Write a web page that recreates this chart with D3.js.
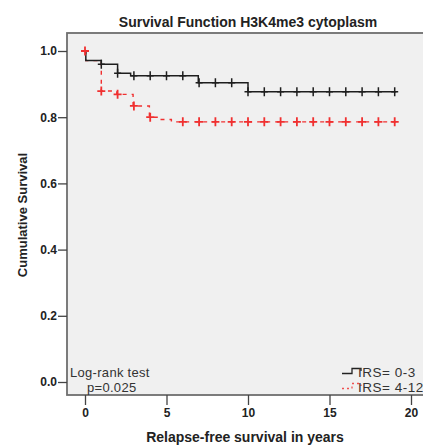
<!DOCTYPE html>
<html><head><meta charset="utf-8">
<script src="https://cdn.jsdelivr.net/npm/d3@7"></script>
<style>body{margin:0;background:#fff}svg{display:block}text{font-family:Arial,"Liberation Sans",sans-serif}</style>
</head><body>
<svg id="c" width="423" height="446"></svg>
<script>
// Data
const title = "Survival Function H3K4me3 cytoplasm";
const xLabel = "Relapse-free survival in years";
const yLabel = "Cumulative Survival";
const xTicks = [0, 5, 10, 15, 20];
const yTicks = [0, 0.2, 0.4, 0.6, 0.8, 1.0];
const seriesNames = ["IRS= 0-3", "IRS= 4-12"];
// step points [time, survival]
const lowSteps = [[0,1.0],[0.05,0.971],[1.0,0.960],[2.0,0.933],[2.8,0.925],[6.95,0.904],[10.0,0.877],[19.1,0.877]];
const lowCensor = [[1,0.960],[2,0.933],[3,0.925],[4,0.925],[5,0.925],[6,0.925],[7,0.904],[8,0.904],[9,0.904],[10,0.877],[11,0.877],[12,0.877],[13,0.877],[14,0.877],[15,0.877],[16,0.877],[17,0.877],[18,0.877],[19,0.877]];
const highSteps = [[0,1.0],[0.05,0.971],[1.0,0.879],[1.95,0.869],[2.95,0.834],[3.95,0.800],[4.6,0.793],[5.3,0.786],[19.1,0.786]];
const highCensor = [[0,1.0],[1,0.879],[2,0.869],[3,0.834],[4,0.800],[6,0.786],[7,0.786],[8,0.786],[9,0.786],[10,0.786],[11,0.786],[12,0.786],[13,0.786],[14,0.786],[15,0.786],[16,0.786],[17,0.786],[18,0.786],[19,0.786]];
const testText = ["Log-rank test", "p=0.025"];

const svg = d3.select("#c");
const frame = {l: 67, t: 33, r: 426, b: 395};
const x = d3.scaleLinear().domain([0, 20]).range([85, 411]);
const y = d3.scaleLinear().domain([0, 1]).range([382, 51]);

svg.append("rect").attr("x", frame.l).attr("y", frame.t)
  .attr("width", frame.r - frame.l).attr("height", frame.b - frame.t)
  .attr("fill", "#f0f0f0").attr("stroke", "#6e6e6e").attr("stroke-width", 1.8);

svg.append("text").attr("x", 248).attr("y", 27).attr("text-anchor", "middle")
  .attr("font-size", 14).attr("font-weight", "bold").attr("fill", "#222").text(title);

const yAx = svg.append("g").attr("transform", `translate(${frame.l},0)`)
  .call(d3.axisLeft(y).tickValues(yTicks).tickFormat(d3.format(".1f")).tickSize(9).tickPadding(1));
yAx.select(".domain").remove();
yAx.selectAll("line").attr("stroke", "#444").attr("stroke-width", 1.3);
yAx.selectAll("text").attr("font-size", 12).attr("font-weight", "bold").attr("fill", "#222")
  .attr("font-family", "Arial, 'Liberation Sans', sans-serif");

const xAx = svg.append("g").attr("transform", `translate(0,${frame.b})`)
  .call(d3.axisBottom(x).tickValues(xTicks).tickFormat(d3.format("d")).tickSize(10).tickPadding(3));
xAx.select(".domain").remove();
xAx.selectAll("line").attr("stroke", "#444").attr("stroke-width", 1.3);
xAx.selectAll("text").attr("font-size", 12).attr("font-weight", "bold").attr("fill", "#222")
  .attr("font-family", "Arial, 'Liberation Sans', sans-serif");

svg.append("text").attr("x", 245).attr("y", 442).attr("text-anchor", "middle")
  .attr("font-size", 14).attr("font-weight", "bold").attr("fill", "#222").text(xLabel);
svg.append("text").attr("transform", "translate(27,215) rotate(-90)").attr("text-anchor", "middle")
  .attr("font-size", 13).attr("font-weight", "bold").attr("fill", "#222").text(yLabel);

const line = d3.line().x(d => x(d[0])).y(d => y(d[1])).curve(d3.curveStepAfter);

// high (red, dashed)
svg.append("path").datum(highSteps).attr("d", line).attr("fill", "none")
  .attr("stroke", "#f03030").attr("stroke-width", 1.4).attr("stroke-dasharray", "4,5");
svg.append("path").datum(lowSteps).attr("d", line).attr("fill", "none")
  .attr("stroke", "#1e1e1e").attr("stroke-width", 1.5);

function crosses(data, color, hw, hh, sw) {
  svg.append("g").selectAll("path").data(data).join("path")
    .attr("d", d => `M${x(d[0]) - hw},${y(d[1])}h${2 * hw}M${x(d[0])},${y(d[1]) - hh}v${2 * hh}`)
    .attr("stroke", color).attr("stroke-width", sw).attr("fill", "none");
}
crosses(highCensor, "#f03030", 4, 4.5, 1.8);
crosses(lowCensor, "#1e1e1e", 3.5, 4.5, 1.5);

// log-rank text
svg.append("text").attr("x", 70).attr("y", 376.5).attr("font-size", 13).attr("letter-spacing", 0.3).attr("fill", "#333").text(testText[0]);
svg.append("text").attr("x", 87).attr("y", 391.5).attr("font-size", 13).attr("letter-spacing", 0.3).attr("fill", "#333").text(testText[1]);

// legend
const lg = svg.append("g");
lg.append("path").attr("d", "M342,373.5H352V368.5H361V371").attr("fill", "none").attr("stroke", "#222").attr("stroke-width", 1.3);
lg.append("path").attr("d", "M342,388.5H352V383.5H361V386").attr("fill", "none").attr("stroke", "#f05050")
  .attr("stroke-width", 1.3).attr("stroke-dasharray", "2,3");
lg.append("text").attr("x", 358).attr("y", 376.5).attr("font-size", 13.5).attr("letter-spacing", 0.5).attr("fill", "#333").text(seriesNames[0]);
lg.append("text").attr("x", 358).attr("y", 391.5).attr("font-size", 13.5).attr("letter-spacing", 0.5).attr("fill", "#333").text(seriesNames[1]);
</script>
</body></html>
